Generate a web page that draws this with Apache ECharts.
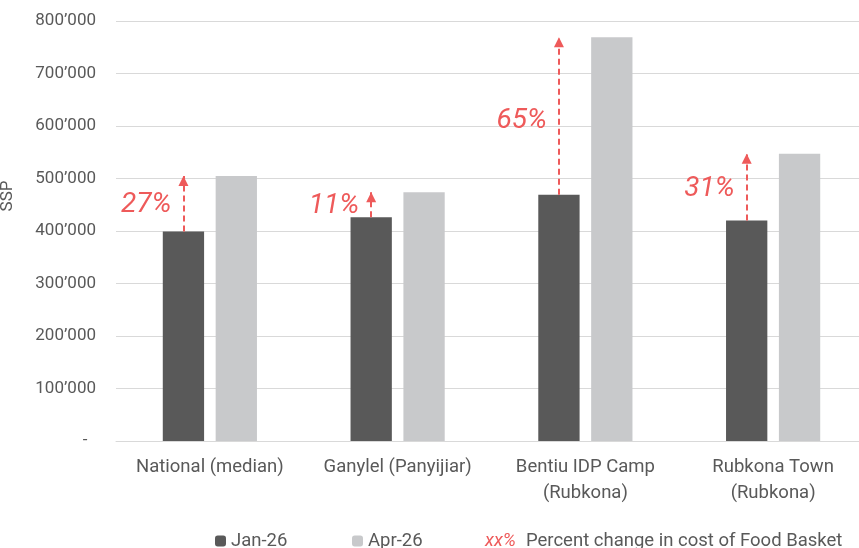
<!DOCTYPE html>
<html><head><meta charset="utf-8">
<script src="https://cdn.jsdelivr.net/npm/echarts@6/dist/echarts.min.js"></script>
<style>html,body{margin:0;padding:0;background:#fff}#c{width:859px;height:548px}</style>
</head><body><div id="c"></div>
<script>
const categories = ['National (median)', 'Ganylel (Panyijiar)', 'Bentiu IDP Camp\n(Rubkona)', 'Rubkona Town\n(Rubkona)'];
const jan26 = [399000, 426000, 469000, 420000];
const apr26 = [505000, 474000, 769000, 547000];
const pctLabels = ['27%', '11%', '65%', '31%'];
const seriesNames = ['Jan-26', 'Apr-26'];
const changeLegend = 'Percent change in cost of Food Basket';
const changeKey = 'xx%';

const FONT = 'Roboto';
const GREY = '#595959';
const RED = '#EE5A5A';

const arrowData = categories.map((c, i) => [
  { coord: [i, jan26[i]] },
  { coord: [i, apr26[i]] }
]);
const labelData = categories.map((c, i) => ({
  name: pctLabels[i],
  coord: [i, jan26[i] + 0.47 * (apr26[i] - jan26[i])]
}));

const LEG_TEXT = { color: GREY, fontSize: 18.5, fontFamily: FONT, lineHeight: 20 };

const chart = echarts.init(document.getElementById('c'), null, { renderer: 'canvas' });
chart.setOption({
  animation: false,
  backgroundColor: '#fff',
  textStyle: { fontFamily: FONT },
  grid: { left: 116, top: 21, width: 751, height: 420, containLabel: false, outerBoundsMode: 'none' },
  legend: [
    { data: [seriesNames[0]], left: 215, top: 531, padding: 0, itemWidth: 11, itemHeight: 11,
      textStyle: LEG_TEXT, selectedMode: false },
    { data: [seriesNames[1]], left: 352, top: 531, padding: 0, itemWidth: 11, itemHeight: 11,
      textStyle: LEG_TEXT, selectedMode: false },
    { data: [{ name: changeLegend, icon: 'none' }], left: 480, top: 531, padding: 0, itemWidth: 0, itemHeight: 11,
      selectedMode: false,
      formatter: n => '{r|' + changeKey + '}' + n,
      textStyle: Object.assign({}, LEG_TEXT, {
        rich: { r: { color: RED, fontStyle: 'italic', fontSize: 18.5, fontFamily: FONT, padding: [0, 10, 0, 0] } } }) }
  ],
  xAxis: {
    type: 'category',
    data: categories,
    axisTick: { show: false },
    axisLine: { lineStyle: { color: '#D9D9D9', width: 1 } },
    axisLabel: { color: GREY, fontSize: 18.5, fontFamily: FONT, lineHeight: 26, margin: 13, interval: 0 }
  },
  yAxis: {
    type: 'value',
    min: 0, max: 800000, interval: 100000,
    name: 'SSP', nameLocation: 'middle', nameGap: 100, nameRotate: 90,
    nameTextStyle: { color: GREY, fontSize: 17, fontFamily: FONT, padding: [0, 0, 0, 70] },
    axisLine: { show: false },
    axisTick: { show: false },
    splitLine: { lineStyle: { color: '#D9D9D9', width: 1 } },
    axisLabel: {
      color: GREY, fontSize: 17, fontFamily: FONT, margin: 20,
      formatter: v => v === 0 ? '-  ' : (v / 1000) + '\u2019000'
    }
  },
  series: [
    {
      name: seriesNames[0], type: 'bar', data: jan26,
      barWidth: '22%', barGap: '28%',
      itemStyle: { color: '#595959' },
      emphasis: { disabled: true },
      markLine: {
        silent: true,
        symbol: ['none', 'triangle'],
        symbolSize: 10,
        symbolOffset: [0, [0, 5]],
        label: { show: false },
        lineStyle: { color: RED, width: 2, type: [6, 4] },
        emphasis: { disabled: true },
        data: arrowData
      },
      markPoint: {
        silent: true,
        symbol: 'circle', symbolSize: 0,
        label: {
          show: true, position: 'left', distance: 12, formatter: '{b}',
          color: RED, fontStyle: 'italic', fontSize: 28, fontFamily: FONT
        },
        data: labelData
      }
    },
    {
      name: seriesNames[1], type: 'bar', data: apr26,
      barWidth: '22%', barGap: '28%',
      itemStyle: { color: '#C8C9CB' },
      emphasis: { disabled: true }
    },
    { name: changeLegend, type: 'line', data: [] }
  ]
});
</script>
</body></html>
